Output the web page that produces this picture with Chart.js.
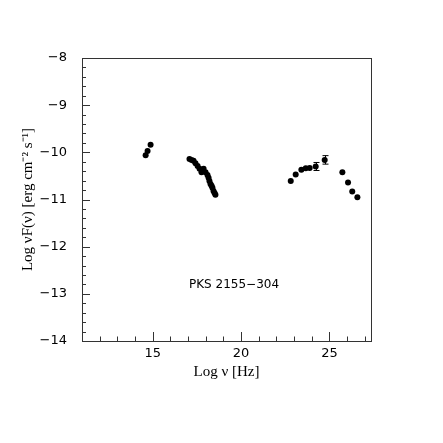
<!DOCTYPE html>
<html>
<head>
<meta charset="utf-8">
<script src="https://cdn.jsdelivr.net/npm/chart.js@4"></script>
<style>
    html, body { margin: 0; padding: 0; background: #fff; }
    #wrap { width: 443px; height: 443px; }
</style>
</head>
<body>
<div id="wrap"><canvas id="sed" width="443" height="443"></canvas></div>
<script>
// Optical points
const opticalX = [14.60, 14.71, 14.88];
const opticalY = [-10.06, -9.97, -9.84];

// X-ray points (dense, overlapping)
const xrayX = [17.08, 17.20, 17.31, 17.42, 17.54, 17.65, 17.76,
               17.88, 17.99, 18.10, 18.16, 18.21, 18.27, 18.33, 18.38, 18.44, 18.50, 18.55];
const xrayY = [-10.14, -10.16, -10.18, -10.23, -10.29, -10.35, -10.42,
               -10.35, -10.42, -10.48, -10.54, -10.61, -10.67, -10.71, -10.75, -10.82, -10.86, -10.90];

// Gamma-ray points
const gammaX = [22.81, 23.09, 23.41, 23.66, 23.88, 24.22, 24.73, 25.73, 26.05, 26.29, 26.58];
const gammaY = [-10.61, -10.47, -10.37, -10.34, -10.33, -10.30, -10.16, -10.42, -10.64, -10.83, -10.95];
const gammaErr = [0, 0, 0, 0, 0, 0.085, 0.09, 0, 0, 0, 0];

// Axis labels
const xLabelTicks = [15, 20, 25];
const yLabelTicks = [-14, -13, -12, -11, -10, -9, -8];
const sourceName = 'PKS 2155\u2212304';

function toPoints(xs, ys) {
    return xs.map((x, i) => ({ x: x, y: ys[i] }));
}

// Box, inward ticks, error bars and label
const framePlugin = {
    id: 'frame',
    afterDatasetsDraw(chart) {
        const ctx = chart.ctx;
        const a = chart.chartArea;
        const xs = chart.scales.x;
        const ys = chart.scales.y;
        ctx.save();
        ctx.strokeStyle = '#333';
        ctx.lineWidth = 1;
        ctx.strokeRect(a.left + 0.5, a.top + 0.5, a.right - a.left, a.bottom - a.top);

        ctx.beginPath();
        for (let v = 12; v <= 27; v++) {
            const px = Math.round(xs.getPixelForValue(v)) + 0.5;
            const len = v % 5 === 0 ? 9 : 4.5;
            ctx.moveTo(px, a.bottom);
            ctx.lineTo(px, a.bottom - len);
        }
        for (let k = 1; k < 30; k++) {
            const v = -14 + k * 0.2;
            const py = Math.round(ys.getPixelForValue(v)) + 0.5;
            const len = k % 5 === 0 ? 8 : 4;
            ctx.moveTo(a.left, py);
            ctx.lineTo(a.left + len, py);
        }
        ctx.stroke();

        // error bars
        ctx.strokeStyle = '#000';
        ctx.beginPath();
        gammaX.forEach((x, i) => {
            if (!gammaErr[i]) return;
            const px = Math.round(xs.getPixelForValue(x)) + 0.5;
            const top = ys.getPixelForValue(gammaY[i] + gammaErr[i]);
            const bot = ys.getPixelForValue(gammaY[i] - gammaErr[i]);
            ctx.moveTo(px, top); ctx.lineTo(px, bot);
            ctx.moveTo(px - 3, top); ctx.lineTo(px + 3, top);
            ctx.moveTo(px - 3, bot); ctx.lineTo(px + 3, bot);
        });
        ctx.stroke();

        ctx.fillStyle = '#000';
        ctx.font = '12px "DejaVu Sans"';
        ctx.textAlign = 'center';
        ctx.textBaseline = 'middle';
        ctx.fillText(sourceName, xs.getPixelForValue(19.6), ys.getPixelForValue(-12.81));
        ctx.restore();
    }
};

const pointStyle = {
    pointRadius: 3,
    pointBackgroundColor: '#000',
    pointBorderWidth: 0,
    showLine: false
};

new Chart(document.getElementById('sed'), {
    type: 'scatter',
    data: {
        datasets: [
            Object.assign({ label: 'optical', data: toPoints(opticalX, opticalY) }, pointStyle),
            Object.assign({ label: 'x-ray', data: toPoints(xrayX, xrayY) }, pointStyle),
            Object.assign({ label: 'gamma', data: toPoints(gammaX, gammaY) }, pointStyle)
        ]
    },
    options: {
        responsive: false,
        animation: false,
        devicePixelRatio: 1,
        layout: { padding: { left: 0, right: 72, top: 58, bottom: 52 } },
        plugins: {
            legend: { display: false },
            tooltip: { enabled: false }
        },
        scales: {
            x: {
                type: 'linear',
                position: 'bottom',
                min: 11,
                max: 27.35,
                grid: { display: false, drawTicks: false },
                border: { display: false },
                afterBuildTicks: s => { s.ticks = xLabelTicks.map(v => ({ value: v })); },
                afterFit: s => { s.height = 50; },
                ticks: {
                    color: '#000',
                    padding: 5,
                    maxRotation: 0,
                    autoSkip: false,
                    font: { family: "'DejaVu Sans'", size: 13 }
                },
                title: {
                    display: true,
                    text: 'Log \u03bd [Hz]',
                    color: '#000',
                    font: { family: "'Liberation Serif'", size: 15 },
                    padding: { top: 0, bottom: 10 }
                }
            },
            y: {
                type: 'linear',
                min: -14,
                max: -8,
                grid: { display: false, drawTicks: false },
                border: { display: false },
                afterBuildTicks: s => { s.ticks = yLabelTicks.map(v => ({ value: v })); },
                afterFit: s => { s.width = 82; },
                ticks: {
                    color: '#000',
                    padding: 15,
                    autoSkip: false,
                    font: { family: "'DejaVu Sans'", size: 13 },
                    callback: v => (v < 0 ? '\u2212' + Math.abs(v) : String(v))
                },
                title: {
                    display: true,
                    text: 'Log \u03bdF(\u03bd) [erg cm\u207b\u00b2 s\u207b\u00b9]',
                    color: '#000',
                    font: { family: "'Liberation Serif'", size: 15 },
                    padding: { top: 19, bottom: 0 }
                }
            }
        }
    },
    plugins: [framePlugin]
});
</script>
</body>
</html>
